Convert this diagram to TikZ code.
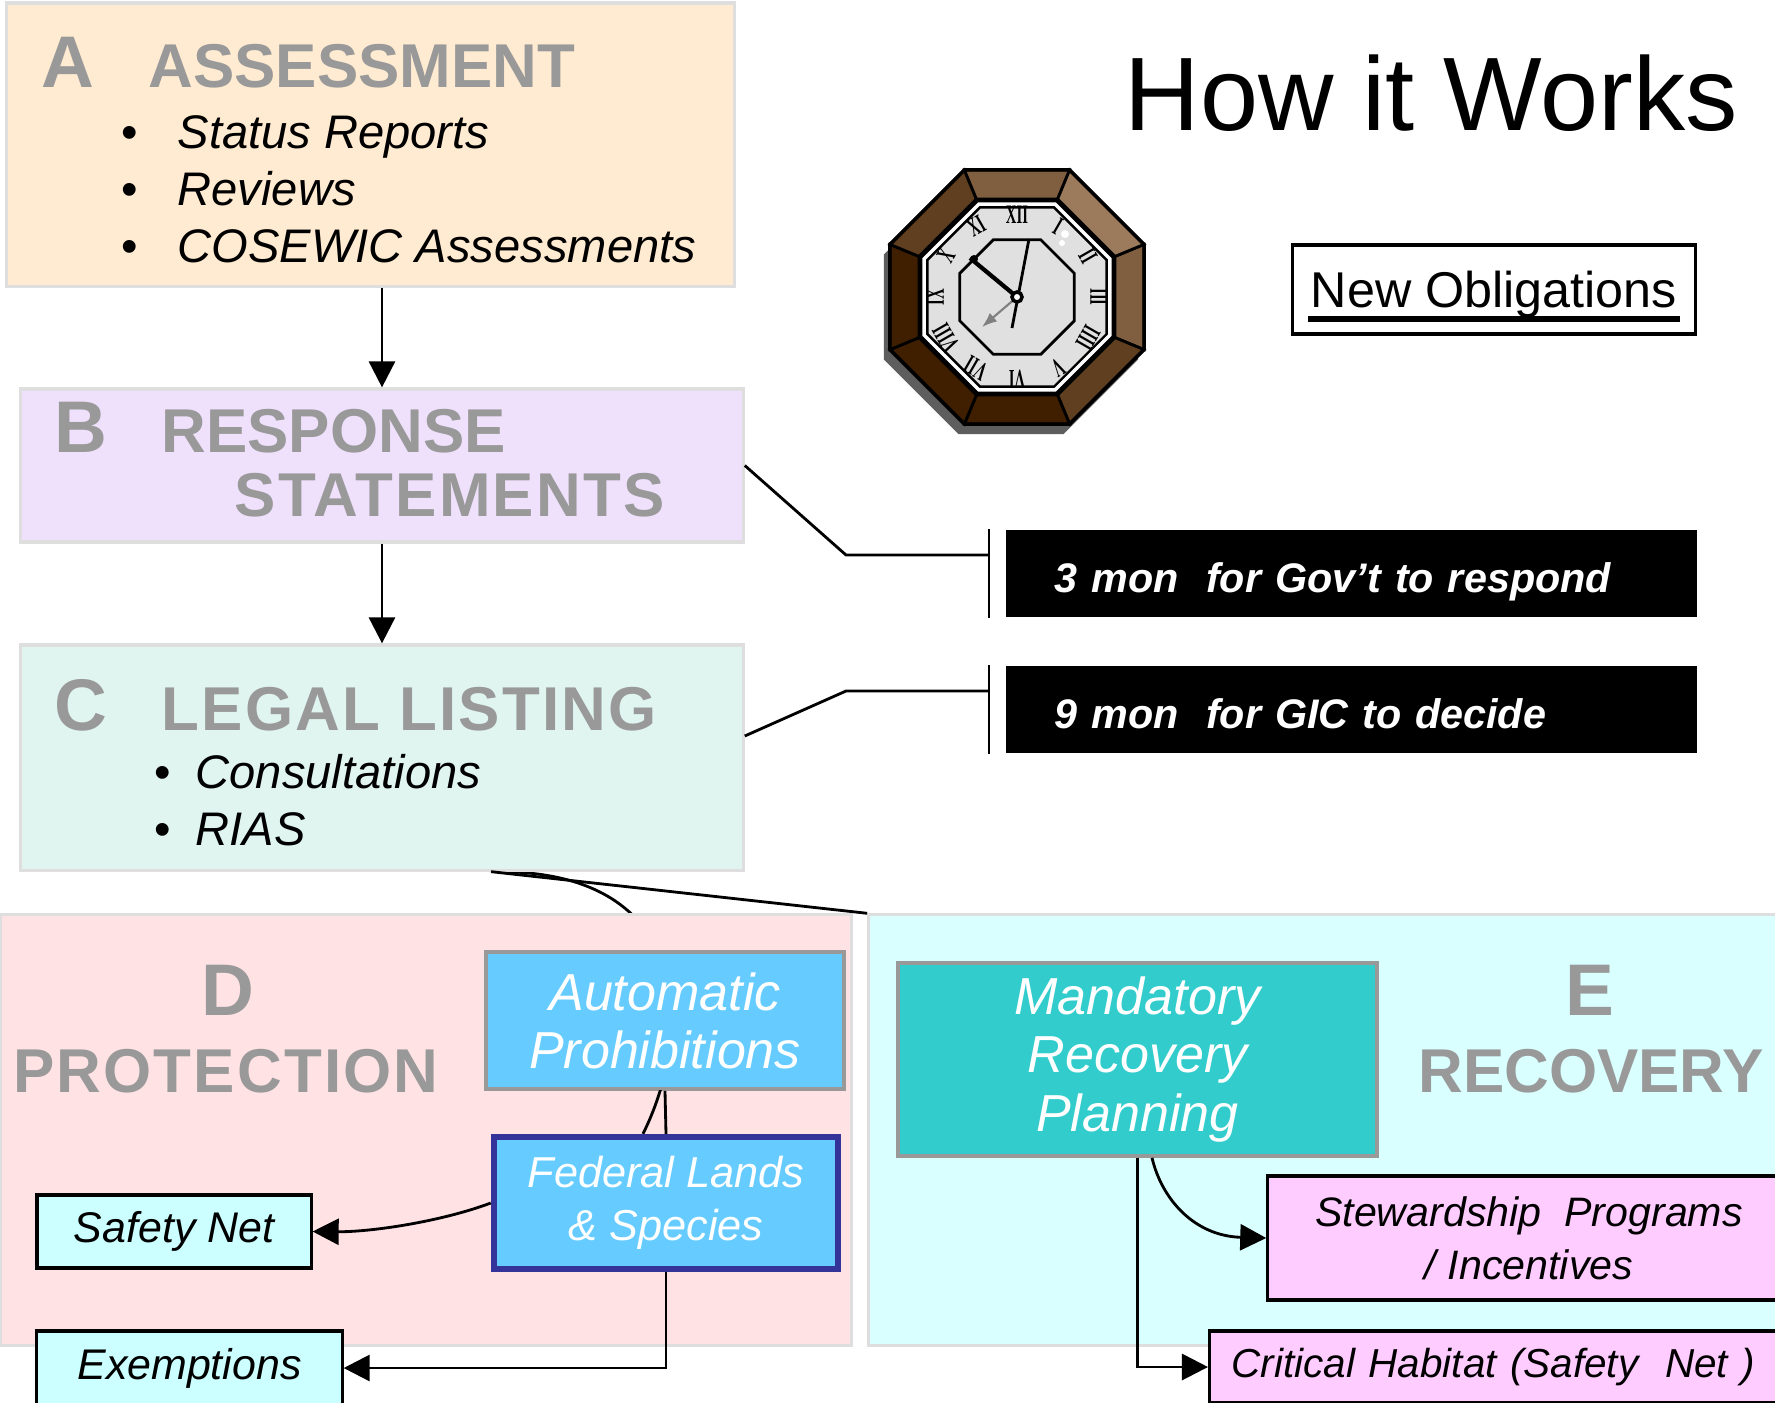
\documentclass[tikz,border=0pt]{standalone}
\usepackage{fontspec}
\usepackage{graphicx}
\setmainfont{Liberation Sans}
\newfontfamily\clockfont{Liberation Serif}
\usetikzlibrary{arrows.meta,backgrounds}

\definecolor{peach}{RGB}{255,235,209}
\definecolor{lavender}{RGB}{239,224,252}
\definecolor{mint}{RGB}{224,245,240}
\definecolor{blush}{RGB}{255,226,228}
\definecolor{icecyan}{RGB}{217,255,255}
\definecolor{skyblue}{RGB}{102,204,255}
\definecolor{lagoon}{RGB}{51,204,204}
\definecolor{navyline}{RGB}{51,51,153}
\definecolor{palecyan}{RGB}{204,255,255}
\definecolor{orchid}{RGB}{255,204,255}
\definecolor{clockA}{RGB}{155,123,91}
\definecolor{clockB}{RGB}{127,95,63}
\definecolor{clockC}{RGB}{95,63,31}
\definecolor{clockD}{RGB}{63,31,0}

\tikzset{
    stage/.style={draw=black!13, line width=0.9pt, inner sep=0pt},
    heading/.style={anchor=base west, inner sep=0pt, text=black!40, font=\fontsize{17.6}{20}\selectfont\bfseries},
    wideheading/.style={heading, font=\fontsize{17.6}{20}\selectfont\bfseries\addfontfeature{LetterSpace=3.5}},
    bigletter/.style={heading, font=\fontsize{20.8}{24}\selectfont\bfseries},
    itemtext/.style={anchor=base west, inner sep=0pt, font=\fontsize{13.4}{16}\selectfont\itshape},
    bulletmark/.style={anchor=base, inner sep=0pt, font=\fontsize{13.4}{16}\selectfont},
    note/.style={draw=black!40, line width=1pt, text=white, align=center, inner sep=0pt, font=\fontsize{14.8}{16.5}\selectfont\itshape},
    leaf/.style={draw, line width=0.9pt, inner sep=0pt, font=\fontsize{12.2}{15}\selectfont\itshape},
    timebar/.style={fill=black, text=white, inner sep=0pt, inner xsep=0.49cm, anchor=west, minimum height=0.87cm, text width=5.93cm, align=left, text height=0.37cm, text depth=0pt, font=\fontsize{11.75}{14}\selectfont\bfseries\itshape},
    numeral/.style={inner sep=0pt, font=\clockfont\bfseries\fontsize{7.6}{7.6}\selectfont},
    link/.style={line width=0.8pt},
    arr/.style={link, -{Triangle[length=0.26cm,width=0.26cm]}},
}

\newcommand{\heavyul}[1]{\setbox0\hbox{#1}\rlap{\kern-0.03cm\raisebox{-4.2pt}{\rule{\dimexpr\wd0+0.06cm\relax}{1.6pt}}}\box0}

\begin{document}
\begin{tikzpicture}[x=0.01cm, y=-0.01cm]
    \useasboundingbox (0,0) rectangle (1775,1402);

    % Draw the stage boxes
    \node[stage, fill=peach, minimum width=7.27cm, minimum height=2.83cm] (assess) at (370.5,144.5) {};
    \node[stage, fill=lavender, minimum width=7.22cm, minimum height=1.53cm] (response) at (382,465.5) {};
    \node[stage, fill=mint, minimum width=7.22cm, minimum height=2.25cm] (listing) at (382,757.5) {};
    \node[stage, fill=blush, minimum width=8.5cm, minimum height=4.3cm] (protreg) at (426,1130) {};
    \node[stage, fill=icecyan, minimum width=9.2cm, minimum height=4.3cm] (recreg) at (1329,1130) {};

    % Add the labels
    \node[bigletter] (alet) at (41,87) {A};
    \node[heading] (ahead) at (148,87) {ASSESSMENT};
    \foreach \t [count=\i from 0] in {Status Reports, Reviews, COSEWIC Assessments} {
        \node[bulletmark] (adot\i) at (130,148+57*\i) {•};
        \node[itemtext] (aitem\i) at (177,148+57*\i) {\t};
    }
    \node[bigletter] (blet) at (54,452) {B};
    \node[heading] (bhead) at (161,452) {RESPONSE};
    \node[wideheading] (bhead2) at (234,516) {STATEMENTS};
    \node[bigletter] (clet) at (54,730) {C};
    \node[wideheading] (chead) at (161,730) {LEGAL LISTING};
    \foreach \t [count=\i from 0] in {Consultations, RIAS} {
        \node[bulletmark] (cdot\i) at (163,788+57*\i) {•};
        \node[itemtext] (citem\i) at (195,788+57*\i) {\t};
    }
    \node[bigletter, anchor=base] (dlet) at (228,1015) {D};
    \node[wideheading, anchor=base] (dhead) at (226,1092) {PROTECTION};
    \node[bigletter, anchor=base] (elet) at (1590,1015) {E};
    \node[heading, anchor=base] (ehead) at (1591,1092) {RECOVERY};

    \draw[arr] (assess.south -| response.north) -- (response.north);
    \draw[arr] (response.south) -- (listing.north);

    % Time limits
    \node[anchor=base west, inner sep=0pt, font=\fontsize{29.7}{34}\selectfont] (title) at (1124,130) {How it Works};
    \node[draw, line width=0.9pt, minimum width=4.02cm, minimum height=0.89cm, inner sep=0pt, text height=0.36cm, text depth=0.01cm, font=\fontsize{14.3}{16}\selectfont] (oblig) at (1494,289.5) {\heavyul{New Obligations}};
    \node[timebar] (respond) at (1005,573.5) {3 mon\ \ for Gov’t to respond};
    \node[timebar] (decide) at (1005,709.5) {9 mon\ \ for GIC to decide};
    \draw[link] ([xshift=-0.16cm]respond.north west) -- ([xshift=-0.16cm]respond.south west);
    \draw[link] ([xshift=-0.16cm]decide.north west) -- ([xshift=-0.16cm]decide.south west);
    \coordinate (t1) at ([xshift=-0.16cm,yshift=0.185cm]respond.west);
    \coordinate (t2) at ([xshift=-0.16cm,yshift=0.185cm]decide.west);
    \coordinate (k1) at (846,555);
    \coordinate (k2) at (846,691);
    \draw[link] (response.east) -- (k1) -- (t1);
    \draw[link] ([yshift=0.215cm]listing.east) -- (k2) -- (t2);

    % Protection and recovery boxes
    \node[note, fill=skyblue, minimum width=3.58cm, minimum height=1.37cm] (prohib) at (665,1020.5) {Automatic\\Prohibitions};
    \node[note, fill=skyblue, draw=navyline, line width=1.8pt, font=\fontsize{12.3}{15}\selectfont\itshape, minimum width=3.44cm, minimum height=1.32cm] (fedlands) at (666,1203) {Federal Lands\\\& Species};
    \node[note, fill=lagoon, minimum width=4.79cm, minimum height=1.93cm] (mandate) at (1137.5,1059.5) {Mandatory\\Recovery\\Planning};
    \node[leaf, fill=palecyan, minimum width=2.74cm, minimum height=0.73cm] (safety) at (174,1231.5) {Safety Net};
    \node[leaf, fill=palecyan, minimum width=3.05cm, minimum height=0.74cm] (exempt) at (189.5,1368) {Exemptions};
    \node[leaf, fill=orchid, align=center, font=\fontsize{11.7}{15}\selectfont\itshape, minimum width=5.22cm, minimum height=1.24cm] (steward) at (1529,1238) {Stewardship\ \ Programs\\/ Incentives};
    \node[leaf, fill=orchid, anchor=west, font=\fontsize{11.5}{14}\selectfont\itshape, minimum height=0.72cm, text width=5.5cm, align=left, inner xsep=0.22cm] (habitat) at (1208,1367) {Critical Habitat (Safety\ \ Net )};

    \draw[link] (prohib.south) -- (fedlands.north);
    \draw[arr] (fedlands.west) .. controls (440,1222) and (370,1232) .. (safety.east);
    \draw[arr] (fedlands.south) |- (exempt.east);
    \draw[arr] (mandate.south) |- (habitat.west);
    \draw[arr] ([xshift=0.145cm]mandate.south) .. controls (1162,1200) and (1195,1236) .. (steward.west);
    \draw[link] ([xshift=1.09cm]listing.south) -- (recreg.north west);
    \begin{scope}[on background layer]
        \draw[link] ([xshift=1.22cm]listing.south) .. controls (700,875) and (690,1040) .. ([xshift=-0.23cm]fedlands.north);
    \end{scope}
    \begin{scope}
        \clip (prohib.south west) rectangle (fedlands.north east);
        \draw[link] ([xshift=1.22cm]listing.south) .. controls (700,875) and (690,1040) .. ([xshift=-0.23cm]fedlands.north);
    \end{scope}

    % Draw the clock
    \begin{scope}[shift={(1017,297)}]
        \fill[black!63, shift={(-6,10)}] (22.5:137.5) \foreach \a in {67.5,112.5,...,337.5} {-- (\a:137.5)} -- cycle;
        \foreach \a/\c in {0/clockB,45/clockC,90/clockD,135/clockD,180/clockD,225/clockC,270/clockB,315/clockA}
            \filldraw[fill=\c, line width=0.8pt] (\a-22.5:137.5) -- (\a+22.5:137.5) -- (\a+22.5:105) -- (\a-22.5:105) -- cycle;
        \draw[line width=1pt] (22.5:137.5) \foreach \a in {67.5,112.5,...,337.5} {-- (\a:137.5)} -- cycle;
        \filldraw[fill=white, line width=1.4pt] (22.5:105) \foreach \a in {67.5,112.5,...,337.5} {-- (\a:105)} -- cycle;
        \filldraw[fill=black!12, line width=0.7pt] (22.5:97) \foreach \a in {67.5,112.5,...,337.5} {-- (\a:97)} -- cycle;
        \draw[line width=0.8pt] (22.5:62) \foreach \a in {67.5,112.5,...,337.5} {-- (\a:62)} -- cycle;
        \foreach \n [count=\h from 0] in {XII,I,II,III,IIII,V,VI,VII,VIII,IX,X,XI}
            \node[numeral, rotate=-30*\h] (num\h) at (30*\h-90:82) {\scalebox{0.55}[1]{\n}};
        \draw[line width=1.2pt] (0,0) -- (-47,-39);
        \fill (-43,-38) circle (0.04cm);
        \draw[line width=0.8pt] (-5,31) -- (12,-58);
        \draw[black!50, line width=0.6pt, -{Latex[length=0.15cm]}] (0,0) -- (-35,30);
        \filldraw[fill=white, line width=1pt] (0,0) circle (0.05cm);
        \fill[white] (48,-63) circle (0.04cm) (45,-54) circle (0.03cm);
    \end{scope}
\end{tikzpicture}
\end{document}
